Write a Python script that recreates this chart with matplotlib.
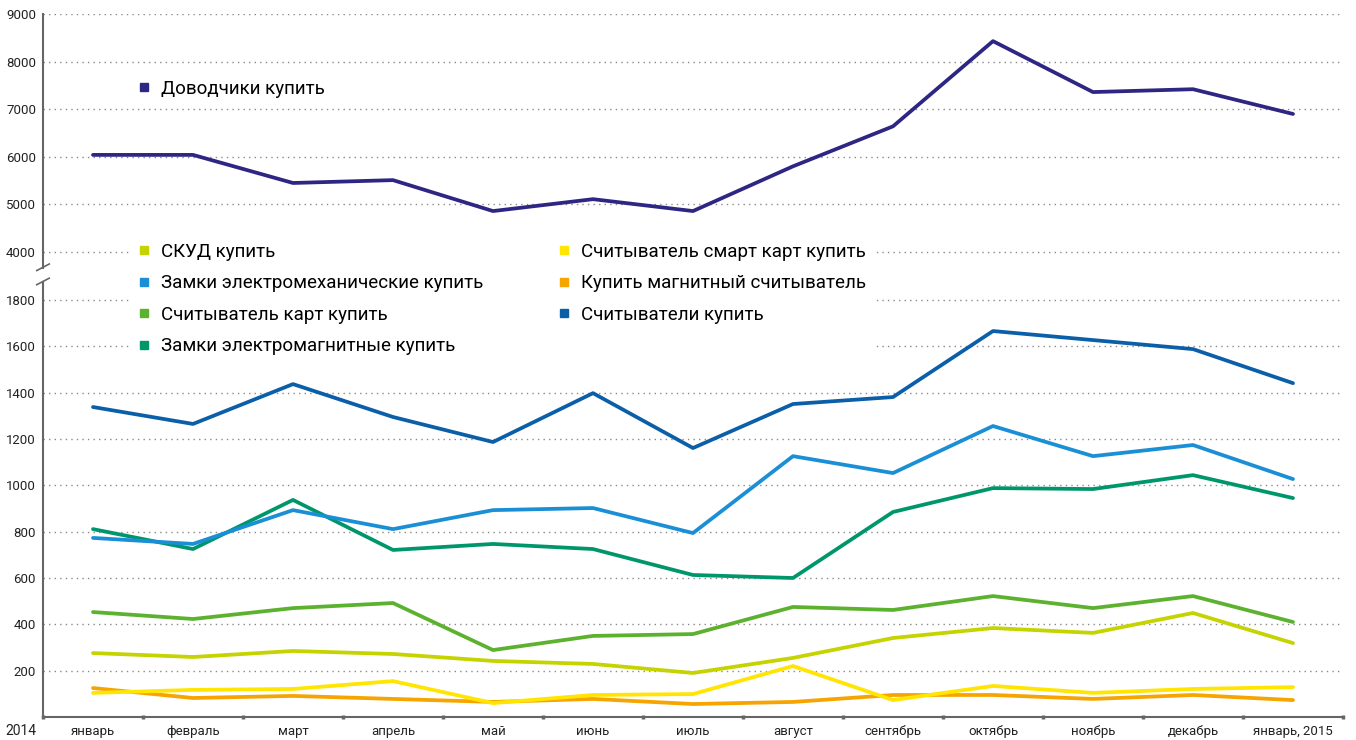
import numpy as np
import matplotlib
matplotlib.use("Agg")
import matplotlib.pyplot as plt
from matplotlib.lines import Line2D

plt.rcParams['font.family'] = ['Roboto', 'DejaVu Sans']

# ── data ──
months = ["январь", "февраль", "март", "апрель", "май", "июнь", "июль",
          "август", "сентябрь", "октябрь", "ноябрь", "декабрь", "январь, 2015"]

dovodchiki = [6040, 6040, 5450, 5510, 4860, 5110, 4860, 5800, 6640, 8430, 7360, 7420, 6900]
skud = [276, 259, 285, 272, 242, 229, 190, 255, 341, 384, 363, 449, 319]
zamki_mech = [773, 747, 893, 811, 893, 902, 794, 1126, 1053, 1256, 1126, 1174, 1027]
schit_kart = [453, 423, 470, 492, 289, 350, 358, 475, 462, 522, 470, 522, 410]
zamki_magn = [811, 725, 937, 721, 747, 725, 613, 600, 885, 988, 984, 1044, 945]
smart = [104, 117, 121, 155, 60, 95, 99, 220, 73, 134, 104, 121, 129]
magn_schit = [125, 82, 91, 78, 65, 78, 56, 65, 95, 95, 78, 95, 73]
schitateli = [1338, 1265, 1437, 1295, 1187, 1398, 1161, 1351, 1381, 1666, 1627, 1588, 1441]

series = [
    ("СКУД купить", skud, "#c5d300"),
    ("Замки электромеханические купить", zamki_mech, "#1a8fd6"),
    ("Считыватель карт купить", schit_kart, "#5cb12f"),
    ("Замки электромагнитные купить", zamki_magn, "#00966c"),
    ("Считыватель смарт карт купить", smart, "#ffe500"),
    ("Купить магнитный считыватель", magn_schit, "#f5a400"),
    ("Считыватели купить", schitateli, "#0b5fa9"),
]
top_label, top_color = "Доводчики купить", "#2e2683"

yticks = [200, 400, 600, 800, 1000, 1200, 1400, 1600, 1800,
          4000, 5000, 6000, 7000, 8000, 9000]

# broken y axis: piecewise-linear scale (values -> pixel-ish height)
_v = np.array([0, 1800, 4000, 9000], dtype=float)
_p = np.array([0, 417, 465, 703], dtype=float)


def _piece(x, a, b):
    x = np.asarray(x, dtype=float)
    out = np.interp(x, a, b)
    lo, hi = x < a[0], x > a[-1]
    out = np.where(lo, b[0] + (x - a[0]) * (b[1] - b[0]) / (a[1] - a[0]), out)
    out = np.where(hi, b[-1] + (x - a[-1]) * (b[-1] - b[-2]) / (a[-1] - a[-2]), out)
    return out


def fwd(x):
    return _piece(x, _v, _p)


def inv(y):
    return _piece(y, _p, _v)


fig = plt.figure(figsize=(13.56, 7.40), dpi=100)
ax = fig.add_axes([43 / 1356, 23 / 740, 1300 / 1356, 703 / 740])
ax.set_yscale("function", functions=(fwd, inv))
ax.set_ylim(0, 9000)
ax.set_xlim(-0.5, 12.5)

x = np.arange(len(months))
LW = 2.7
ax.plot(x, dovodchiki, color=top_color, lw=LW, solid_capstyle="round", zorder=3)
draw_order = [2, 0, 5, 4, 3, 1, 6]
for i in draw_order:
    lab, vals, c = series[i]
    ax.plot(x, vals, color=c, lw=LW, solid_capstyle="round", zorder=3)

# grid
for v in yticks:
    ax.axhline(v, color="#8a8a8a", lw=1.0, ls=(0, (1, 3)), zorder=1)

ax.set_yticks(yticks)
ax.set_yticklabels([str(v) for v in yticks])
ax.tick_params(axis="y", length=0, pad=5, labelsize=9.5, labelcolor="#222222")

ax.set_xticks(np.arange(-0.5, 13, 1.0))
ax.set_xticklabels([])
ax.set_xticks(x, minor=True)
ax.set_xticklabels(months, minor=True)
ax.tick_params(axis="x", which="major", length=2.5, width=2.5, direction="inout",
               color="#666666")
ax.tick_params(axis="x", which="minor", length=0, pad=6, labelsize=9.5,
               labelcolor="#222222")

for s in ("top", "right", "left"):
    ax.spines[s].set_visible(False)
ax.spines["bottom"].set_color("#666666")
ax.spines["bottom"].set_linewidth(1.5)

# left axis line with a break
yt = ax.get_yaxis_transform()
ax.plot([0, 0], [0, 2620], transform=yt, color="#666666", lw=1.5, clip_on=False)
ax.plot([0, 0], [3270, 9000], transform=yt, color="#666666", lw=1.5, clip_on=False)
ax.plot([-0.0048, 0.0048], [2500, 2800], transform=yt, color="#666666", lw=1.2,
        clip_on=False)
ax.plot([-0.0048, 0.0048], [3150, 3450], transform=yt, color="#666666", lw=1.2,
        clip_on=False)

fig.text(5 / 1356, (740 - 731) / 740, "2014", fontsize=10, color="#222222",
         va="center", ha="left")

# legends
h_top = [Line2D([], [], marker="s", ls="none", color=top_color, markersize=6)]
leg1 = ax.legend(h_top, [top_label], loc="upper left",
                 bbox_to_anchor=(120 / 1356, 1 - 63 / 740),
                 bbox_transform=fig.transFigure, frameon=False, fontsize=13.5,
                 handlelength=0.8, handletextpad=0.5)
ax.add_artist(leg1)

handles = [Line2D([], [], marker="s", ls="none", color=c, markersize=6)
           for _, _, c in series]
leg2 = ax.legend(handles, [s[0] for s in series], ncol=2, loc="upper left",
                 bbox_to_anchor=(120 / 1356, 1 - 226 / 740),
                 bbox_transform=fig.transFigure, frameon=True, fontsize=13.5,
                 handlelength=0.8, handletextpad=0.5, labelspacing=0.72,
                 columnspacing=3.9, borderpad=0.4)
leg2.get_frame().set_facecolor("white")
leg2.get_frame().set_edgecolor("none")
leg2.get_frame().set_alpha(1.0)
leg2.set_zorder(5)

fig.savefig("out.png", dpi=100)
